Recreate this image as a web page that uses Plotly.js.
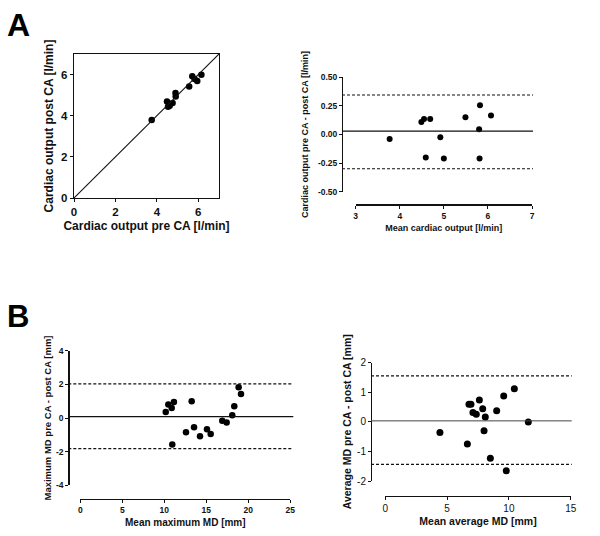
<!DOCTYPE html>
<html>
<head>
<meta charset="utf-8">
<script src="https://cdn.plot.ly/plotly-3.0.1.min.js"></script>
<style>
  html, body { margin: 0; padding: 0; background: #fff; }
  #chart { width: 600px; height: 536px; }
</style>
</head>
<body>
<div id="chart"></div>
<script>
// ---------- Data ----------
// Panel A, left: cardiac output pre vs post CA [l/min]
const coPre  = [3.75, 4.54, 4.62, 4.76, 4.49, 4.91, 4.90, 5.56, 5.95, 5.82, 5.71, 6.15];
const coPost = [3.79, 4.44, 4.48, 4.62, 4.69, 4.93, 5.11, 5.42, 5.69, 5.78, 5.92, 5.99];
const identityLine = [0, 7];

// Panel A, right: Bland-Altman of cardiac output
const coMean = [3.77, 4.49, 4.55, 4.69, 4.59, 4.92, 5.00, 5.49, 5.82, 5.80, 5.81, 6.07];
const coDiff = [-0.04, 0.11, 0.135, 0.135, -0.20, -0.025, -0.21, 0.15, 0.255, 0.045, -0.21, 0.165];
const coBias = 0.03;
const coLoA = [-0.30, 0.345];

// Panel B, left: Bland-Altman of maximum MD [mm]
const maxMean = [10.17, 10.48, 10.88, 11.15, 10.95, 12.58, 13.26, 13.54, 14.25, 15.08, 15.52, 16.90, 17.42, 18.09, 18.33, 18.85, 19.13];
const maxDiff = [0.36, 0.80, 0.60, 0.95, -1.58, -0.85, 0.99, -0.55, -1.09, -0.67, -0.95, -0.16, -0.27, 0.16, 0.70, 1.83, 1.43];
const maxBias = 0.08;
const maxLoA = [-1.82, 2.03];

// Panel B, right: Bland-Altman of average MD [mm]
const avgMean = [4.42, 6.64, 6.77, 6.93, 7.09, 7.36, 7.61, 7.88, 7.99, 8.09, 8.50, 9.01, 9.58, 9.79, 10.44, 11.57];
const avgDiff = [-0.36, -0.75, 0.59, 0.59, 0.31, 0.25, 0.73, 0.44, -0.30, 0.16, -1.23, 0.37, 0.87, -1.65, 1.11, -0.01];
const avgBias = 0.03;
const avgLoA = [-1.44, 1.55];

// Tick labels
const aLeftTicks = [0, 2, 4, 6];
const aRightXTicks = [3, 4, 5, 6, 7];
const aRightYTicks = [-0.5, -0.25, 0, 0.25, 0.5];
const aRightYText = ['-0.50', '-0.25', '0.00', '0.25', '0.50'];
const bLeftXTicks = [0, 5, 10, 15, 20, 25];
const bLeftYTicks = [-4, -2, 0, 2, 4];
const bLeftYText = ['-4', '-2', '0', '2', '4'];
const bRightXTicks = [0, 5, 10, 15];
const bRightYTicks = [-2, -1, 0, 1, 2];
const bRightYText = ['-2', '-1', '0', '1', '2'];

// ---------- Layout helpers ----------
const W = 600, H = 536;
const px = v => v / W;
const py = v => 1 - v / H;
const FONT = 'Liberation Sans, Arial, sans-serif';
const INK = '#111';

function axis(o) {
  return Object.assign({
    showgrid: false, zeroline: false, showline: true,
    linecolor: INK, linewidth: 1.2,
    ticks: 'outside', ticklen: 3, tickwidth: 1, tickcolor: INK,
    automargin: false, fixedrange: true,
  }, o);
}
function tf(size, bold) {
  return { family: FONT, size: size, color: INK, weight: bold ? 'bold' : 'normal' };
}
function hline(xref0, xref1, yref, y, dash, width, color) {
  return {
    type: 'line', xref: 'paper', yref: yref,
    x0: xref0, x1: xref1, y0: y, y1: y,
    line: { color: color || INK, width: width || 1.2, dash: dash || 'solid' }
  };
}
const dash = '3px,2px';

const traces = [
  { x: coPre, y: coPost, xaxis: 'x', yaxis: 'y', type: 'scatter', mode: 'markers',
    marker: { color: '#000', size: 6.5 }, cliponaxis: false, showlegend: false },
  { x: coMean, y: coDiff, xaxis: 'x2', yaxis: 'y2', type: 'scatter', mode: 'markers',
    marker: { color: '#000', size: 6 }, showlegend: false },
  { x: maxMean, y: maxDiff, xaxis: 'x3', yaxis: 'y3', type: 'scatter', mode: 'markers',
    marker: { color: '#000', size: 6.5 }, showlegend: false },
  { x: avgMean, y: avgDiff, xaxis: 'x4', yaxis: 'y4', type: 'scatter', mode: 'markers',
    marker: { color: '#000', size: 7 }, showlegend: false },
];

const layout = {
  width: W, height: H,
  margin: { l: 0, r: 0, t: 0, b: 0 },
  paper_bgcolor: '#fff', plot_bgcolor: 'rgba(0,0,0,0)',
  showlegend: false,
  font: { family: FONT, color: INK },

  // Panel A left
  xaxis: axis({ domain: [px(74), px(219)], range: [0, 7], anchor: 'y', mirror: true,
    tickvals: aLeftTicks, tickfont: tf(11.5, true),
    title: { text: 'Cardiac output pre CA [l/min]', font: tf(12, true), standoff: 4 } }),
  yaxis: axis({ domain: [py(198), py(54)], range: [0, 7], anchor: 'x', mirror: true,
    tickvals: aLeftTicks, tickfont: tf(11.5, true),
    title: { text: 'Cardiac output post CA [l/min]', font: tf(12, true), standoff: 4 } }),

  // Panel A right
  xaxis2: axis({ domain: [px(355.7), px(532)], range: [3, 7], anchor: 'free', position: py(204.3),
    tickvals: aRightXTicks, tickfont: tf(8.5, true),
    title: { text: 'Mean cardiac output [l/min]', font: tf(9, true), standoff: 5 } }),
  yaxis2: axis({ domain: [py(191.7), py(77.3)], range: [-0.5, 0.5], anchor: 'free', position: px(342),
    tickvals: aRightYTicks, ticktext: aRightYText, tickfont: tf(8.5, true),
    title: { text: 'Cardiac output pre CA - post CA [l/min]', font: tf(9, true), standoff: 6 } }),

  // Panel B left
  xaxis3: axis({ domain: [px(80.3), px(290.3)], range: [0, 25], anchor: 'free', position: py(499),
    tickvals: bLeftXTicks, tickfont: tf(8.5, true),
    title: { text: 'Mean maximum MD [mm]', font: tf(10, true), standoff: 4 } }),
  yaxis3: axis({ domain: [py(485.3), py(350.7)], range: [-4, 4], anchor: 'free', position: px(68.3),
    tickvals: bLeftYTicks, ticktext: bLeftYText, tickfont: tf(8.5, true),
    title: { text: 'Maximum MD pre CA - post CA [mm]', font: tf(9.5, true), standoff: 1 } }),

  // Panel B right
  xaxis4: axis({ domain: [px(385.3), px(570.7)], range: [0, 15], anchor: 'free', position: py(496),
    tickvals: bRightXTicks, tickfont: tf(10, false),
    title: { text: 'Mean average MD [mm]', font: tf(10.5, true), standoff: 4 } }),
  yaxis4: axis({ domain: [py(481), py(362.5)], range: [-2, 2], anchor: 'free', position: px(371),
    tickvals: bRightYTicks, ticktext: bRightYText, tickfont: tf(10, false),
    title: { text: 'Average MD pre CA - post CA [mm]', font: tf(10.5, true), standoff: 2 } }),

  shapes: [
    // identity line (panel A left)
    { type: 'line', xref: 'x', yref: 'y', x0: identityLine[0], y0: identityLine[0],
      x1: identityLine[1], y1: identityLine[1], line: { color: INK, width: 1.1 } },
    // panel A right
    hline(px(342), px(533), 'y2', coBias, 'solid', 1.2),
    hline(px(342), px(533), 'y2', coLoA[0], dash, 1.1),
    hline(px(342), px(533), 'y2', coLoA[1], dash, 1.1),
    // panel B left
    hline(px(68.3), px(293.3), 'y3', maxBias, 'solid', 1.2),
    hline(px(68.3), px(293.3), 'y3', maxLoA[0], dash, 1.1),
    hline(px(68.3), px(293.3), 'y3', maxLoA[1], dash, 1.1),
    // panel B right
    hline(px(371), px(571.7), 'y4', avgBias, 'solid', 1, '#444'),
    hline(px(371), px(571.7), 'y4', avgLoA[0], dash, 1.1),
    hline(px(371), px(571.7), 'y4', avgLoA[1], dash, 1.1),
  ],

  annotations: [
    { text: 'A', xref: 'paper', yref: 'paper', x: px(5), y: py(5), xanchor: 'left', yanchor: 'top',
      showarrow: false, font: { family: FONT, size: 32, color: '#000', weight: 'bold' } },
    { text: 'B', xref: 'paper', yref: 'paper', x: px(5), y: py(297), xanchor: 'left', yanchor: 'top',
      showarrow: false, font: { family: FONT, size: 31, color: '#000', weight: 'bold' } },
  ],
};

Plotly.newPlot('chart', traces, layout, { staticPlot: true, displayModeBar: false });
</script>
</body>
</html>
